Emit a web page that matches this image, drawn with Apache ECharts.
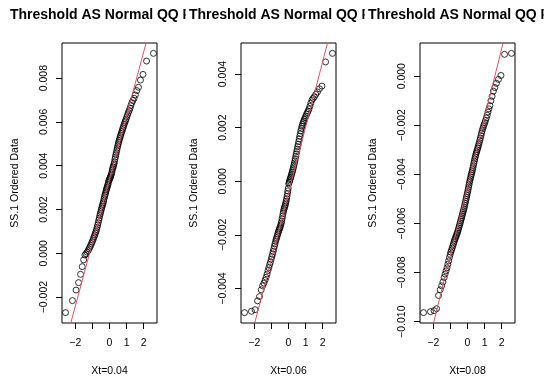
<!DOCTYPE html>
<html>
<head>
<meta charset="utf-8">
<script src="https://cdn.jsdelivr.net/npm/echarts@6/dist/echarts.min.js"></script>
<style>
html,body{margin:0;padding:0;background:#fff;}
#chart{width:550px;height:385px;}
</style>
</head>
<body>
<div id="chart"></div>
<script>
// Theoretical normal quantiles (x) shared by all three panels
const theoQ = [-2.5758,-2.1701,-1.9600,-1.8119,-1.6954,-1.5982,-1.5141,-1.4395,-1.3722,-1.3106,
-1.2536,-1.2004,-1.1503,-1.1031,-1.0581,-1.0152,-0.9741,-0.9346,-0.8965,-0.8596,
-0.8239,-0.7892,-0.7554,-0.7225,-0.6903,-0.6588,-0.6280,-0.5978,-0.5681,-0.5388,
-0.5101,-0.4817,-0.4538,-0.4261,-0.3989,-0.3719,-0.3451,-0.3186,-0.2924,-0.2663,
-0.2404,-0.2147,-0.1891,-0.1637,-0.1383,-0.1130,-0.0878,-0.0627,-0.0376,-0.0125,
0.0125,0.0376,0.0627,0.0878,0.1130,0.1383,0.1637,0.1891,0.2147,0.2404,
0.2663,0.2924,0.3186,0.3451,0.3719,0.3989,0.4261,0.4538,0.4817,0.5101,
0.5388,0.5681,0.5978,0.6280,0.6588,0.6903,0.7225,0.7554,0.7892,0.8239,
0.8596,0.8965,0.9346,0.9741,1.0152,1.0581,1.1031,1.1503,1.2004,1.2536,
1.3106,1.3722,1.4395,1.5141,1.5982,1.6954,1.8119,1.9600,2.1701,2.5758];

// Ordered data, Xt = 0.04
const ss1_xt004 = [-0.00271,-0.00216,-0.00168,-0.00134,-0.00096,-0.00061,-0.00030,-0.00008,-0.00002,0.00005,
0.00012,0.00020,0.00028,0.00036,0.00044,0.00052,0.00060,0.00068,0.00076,0.00084,
0.00092,0.00100,0.00109,0.00119,0.00129,0.00140,0.00151,0.00161,0.00172,0.00181,
0.00190,0.00199,0.00208,0.00216,0.00223,0.00230,0.00239,0.00249,0.00258,0.00266,
0.00273,0.00281,0.00289,0.00296,0.00302,0.00309,0.00315,0.00324,0.00331,0.00336,
0.00341,0.00346,0.00350,0.00356,0.00362,0.00370,0.00380,0.00388,0.00394,0.00401,
0.00409,0.00418,0.00430,0.00440,0.00450,0.00460,0.00470,0.00480,0.00490,0.00499,
0.00508,0.00516,0.00524,0.00532,0.00540,0.00548,0.00556,0.00564,0.00572,0.00580,
0.00589,0.00597,0.00605,0.00613,0.00623,0.00633,0.00643,0.00652,0.00662,0.00675,
0.00688,0.00698,0.00708,0.00723,0.00743,0.00758,0.00791,0.00817,0.00878,0.00913];

// Ordered data, Xt = 0.06
const ss1_xt006 = [-0.00490,-0.00485,-0.00479,-0.00446,-0.00430,-0.00405,-0.00390,-0.00380,-0.00369,-0.00358,
-0.00346,-0.00333,-0.00322,-0.00311,-0.00302,-0.00291,-0.00281,-0.00272,-0.00262,-0.00252,
-0.00242,-0.00233,-0.00224,-0.00217,-0.00210,-0.00203,-0.00196,-0.00190,-0.00184,-0.00179,
-0.00174,-0.00169,-0.00163,-0.00156,-0.00149,-0.00140,-0.00130,-0.00120,-0.00112,-0.00105,
-0.00099,-0.00094,-0.00088,-0.00081,-0.00074,-0.00066,-0.00056,-0.00046,-0.00036,-0.00026,
-0.00010,-0.00004,0.00001,0.00006,0.00011,0.00016,0.00022,0.00028,0.00034,0.00040,
0.00046,0.00053,0.00060,0.00068,0.00076,0.00084,0.00093,0.00102,0.00111,0.00120,
0.00129,0.00138,0.00148,0.00158,0.00168,0.00178,0.00188,0.00197,0.00205,0.00212,
0.00219,0.00225,0.00231,0.00237,0.00243,0.00250,0.00256,0.00262,0.00270,0.00280,
0.00292,0.00303,0.00309,0.00315,0.00324,0.00333,0.00345,0.00355,0.00445,0.00477];

// Ordered data, Xt = 0.08
const ss1_xt008 = [-0.00963,-0.00959,-0.00955,-0.00947,-0.00893,-0.00870,-0.00854,-0.00838,-0.00820,-0.00806,
-0.00793,-0.00780,-0.00766,-0.00752,-0.00738,-0.00726,-0.00716,-0.00708,-0.00700,-0.00691,
-0.00683,-0.00675,-0.00668,-0.00662,-0.00656,-0.00650,-0.00644,-0.00638,-0.00632,-0.00625,
-0.00618,-0.00611,-0.00604,-0.00597,-0.00590,-0.00583,-0.00576,-0.00569,-0.00562,-0.00555,
-0.00548,-0.00541,-0.00534,-0.00526,-0.00518,-0.00510,-0.00502,-0.00494,-0.00486,-0.00478,
-0.00470,-0.00461,-0.00452,-0.00443,-0.00434,-0.00426,-0.00418,-0.00410,-0.00403,-0.00396,
-0.00389,-0.00381,-0.00373,-0.00364,-0.00355,-0.00346,-0.00337,-0.00329,-0.00321,-0.00314,
-0.00307,-0.00300,-0.00293,-0.00286,-0.00278,-0.00270,-0.00261,-0.00252,-0.00242,-0.00232,
-0.00222,-0.00213,-0.00205,-0.00197,-0.00189,-0.00180,-0.00170,-0.00159,-0.00146,-0.00133,
-0.00120,-0.00100,-0.00082,-0.00061,-0.00046,-0.00029,-0.00013,0.00003,0.00089,0.00093];

// Reference (qqline) intercepts and slopes
const lineIntercept = [0.00339, -0.00044, -0.00448];
const lineSlope = [0.00290, 0.00245, 0.00280];

const panelData = [ss1_xt004, ss1_xt006, ss1_xt008];
const xNames = ['Xt=0.04', 'Xt=0.06', 'Xt=0.08'];
const mainTitle = 'Threshold AS Normal QQ Plot';
const yAxisTitle = 'SS.1 Ordered Data';
const xTickValues = [-2, -1, 0, 1, 2];
const xTickLabels = [-2, 0, 1, 2];
const yTickValues = [
  [-0.002, 0, 0.002, 0.004, 0.006, 0.008],
  [-0.004, -0.002, 0, 0.002, 0.004],
  [-0.010, -0.008, -0.006, -0.004, -0.002, 0]
];

// ---- layout ----
const FONT = '"Liberation Sans", Arial, Helvetica, sans-serif';
const gridLefts = [62, 241, 420];
const gridTop = 43, gridW = 95, gridH = 280;
const minus = s => String(s).replace('-', '\u2212');

function ext(arr) {
  const mn = Math.min(...arr), mx = Math.max(...arr);
  const d = (mx - mn) * 0.04;
  return [mn - d, mx + d];
}
const xr = ext(theoQ);

const grid = [], xAxis = [], yAxis = [], series = [];
panelData.forEach((ys, i) => {
  const yr = ext(ys);
  grid.push({left: gridLefts[i], top: gridTop, width: gridW, height: gridH,
    show: true, borderColor: '#000', borderWidth: 1, backgroundColor: 'transparent'});
  xAxis.push({
    type: 'value', gridIndex: i, min: xr[0], max: xr[1], position: 'bottom',
    splitLine: {show: false}, axisLine: {show: false, onZero: false},
    axisTick: {show: true, customValues: xTickValues, length: 6, lineStyle: {color: '#000', width: 1}},
    axisLabel: {customValues: xTickLabels, color: '#000', fontSize: 10.5, fontFamily: FONT, margin: 15,
      formatter: v => minus(v)},
    name: xNames[i], nameLocation: 'middle', nameGap: 43,
    nameTextStyle: {color: '#000', fontSize: 10.5, fontFamily: FONT}
  });
  yAxis.push({
    type: 'value', gridIndex: i, min: yr[0], max: yr[1], position: 'left',
    splitLine: {show: false}, axisLine: {show: false, onZero: false},
    axisTick: {show: true, customValues: yTickValues[i], length: 6, lineStyle: {color: '#000', width: 1}},
    axisLabel: {customValues: yTickValues[i], rotate: 90, color: '#000', fontSize: 10.5, fontFamily: FONT, margin: 12,
      formatter: v => minus(Number(v).toFixed(3))},
    name: yAxisTitle, nameLocation: 'middle', nameRotate: 90, nameGap: 41,
    nameTextStyle: {color: '#000', fontSize: 10.5, fontFamily: FONT}
  });
  series.push({
    type: 'scatter', xAxisIndex: i, yAxisIndex: i,
    data: theoQ.map((x, k) => [x, ys[k]]),
    symbol: 'circle', symbolSize: 6,
    itemStyle: {color: 'rgba(0,0,0,0)', borderColor: '#000', borderWidth: 1},
    z: 2
  });
  series.push({
    type: 'line', xAxisIndex: i, yAxisIndex: i,
    data: [[xr[0], lineIntercept[i] + lineSlope[i] * xr[0]], [xr[1], lineIntercept[i] + lineSlope[i] * xr[1]]],
    symbol: 'none', clip: true,
    lineStyle: {color: '#DF536B', width: 1},
    z: 3
  });
});

// Titles: centred on each plot box and clipped at the figure region edge like R does
const ctx = document.createElement('canvas').getContext('2d');
const titleFont = 'bold 14px ' + FONT;
ctx.font = titleFont;
const fullW = ctx.measureText(mainTitle).width;
const preW = ctx.measureText('Threshold AS Normal QQ ').width;
const graphic = [];
let zc = 10;
gridLefts.forEach((gl, i) => {
  const cx = gl + gridW / 2;
  graphic.push({type: 'text', x: cx, y: 15, z: zc++,
    style: {text: mainTitle, font: titleFont, fill: '#000', textAlign: 'center', textVerticalAlign: 'middle'}});
  const clipX = cx - fullW / 2 + preW + 3;
  graphic.push({type: 'rect', z: zc++, shape: {x: clipX, y: 0, width: 600 - clipX, height: 32},
    style: {fill: '#fff'}});
});

const chart = echarts.init(document.getElementById('chart'), null, {renderer: 'canvas'});
chart.setOption({
  animation: false,
  backgroundColor: '#fff',
  grid, xAxis, yAxis, series, graphic
});
</script>
</body>
</html>
